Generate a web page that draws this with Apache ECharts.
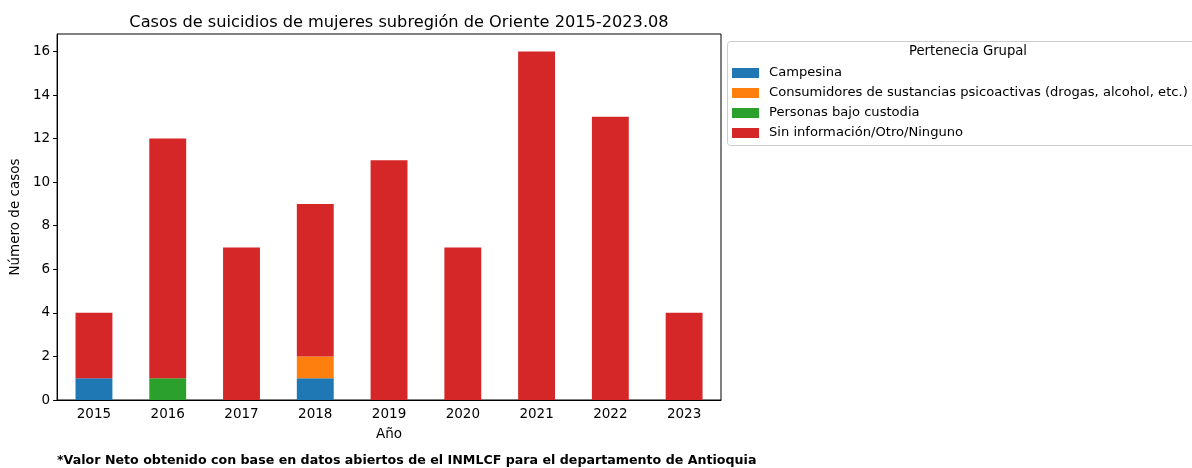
<!DOCTYPE html>
<html>
<head>
<meta charset="utf-8">
<script src="https://cdn.jsdelivr.net/npm/echarts@6/dist/echarts.min.js"></script>
<style>
  html, body { margin: 0; padding: 0; background: #fff; }
  #container { width: 1192px; height: 468px; }
</style>
</head>
<body>
<div id="container"></div>
<script>
// data
var years = ['2015', '2016', '2017', '2018', '2019', '2020', '2021', '2022', '2023'];
var campesina = [1, 0, 0, 1, 0, 0, 0, 0, 0];
var consumidores = [0, 0, 0, 1, 0, 0, 0, 0, 0];
var custodia = [0, 1, 0, 0, 0, 0, 0, 0, 0];
var sinInfo = [3, 11, 7, 7, 11, 7, 16, 13, 4];

var groupNames = [
    'Campesina',
    'Consumidores de sustancias psicoactivas (drogas, alcohol, etc.)',
    'Personas bajo custodia',
    'Sin información/Otro/Ninguno'
];
var groupValues = [campesina, consumidores, custodia, sinInfo];
var colors = ['#1f77b4', '#ff7f0e', '#2ca02c', '#d62728'];

var font = 'DejaVu Sans';
var dom = document.getElementById('container');
var myChart = echarts.init(dom);

var series = [];
groupNames.forEach(function (name, i) {
    series.push({
        name: name,
        type: 'bar',
        stack: 'total',
        barWidth: '50%',
        itemStyle: { color: colors[i] },
        data: groupValues[i]
    });
});

var option = {
    backgroundColor: '#fff',
    animation: false,
    color: colors,
    title: {
        text: 'Casos de suicidios de mujeres subregión de Oriente 2015-2023.08',
        left: 394,
        textAlign: 'center',
        top: 10,
        textStyle: { fontFamily: font, fontSize: 16.2, fontWeight: 'normal', color: '#000' }
    },
    grid: {
        left: 57, right: 471, top: 34, bottom: 68,
        show: true, borderColor: '#000', borderWidth: 1
    },
    legend: {
        orient: 'vertical',
        left: 732,
        top: 66,
        itemWidth: 27,
        itemHeight: 10,
        itemGap: 6,
        icon: 'rect',
        padding: 0,
        textStyle: { fontFamily: font, fontSize: 13.1, color: '#000', lineHeight: 14, padding: [0, 0, 0, 5] },
        data: groupNames
    },
    graphic: [
        {
            type: 'rect',
            shape: { x: 727.5, y: 41.5, width: 470, height: 104, r: 3 },
            style: { fill: 'rgba(255,255,255,0.8)', stroke: '#cccccc', lineWidth: 1 },
            z: -1
        },
        {
            type: 'text',
            x: 968, y: 52,
            style: {
                text: 'Pertenecia Grupal', fontFamily: font, fontSize: 13.2, fill: '#000',
                textAlign: 'center', textVerticalAlign: 'middle'
            }
        },
        {
            type: 'text',
            x: 57, y: 461,
            style: {
                text: '*Valor Neto obtenido con base en datos abiertos de el INMLCF para el departamento de Antioquia',
                fontFamily: font, fontSize: 12.65, fontWeight: 'bold', fill: '#000',
                textAlign: 'left', textVerticalAlign: 'middle'
            }
        }
    ],
    xAxis: {
        type: 'category',
        data: years,
        name: 'Año',
        nameLocation: 'middle',
        nameGap: 27,
        nameTextStyle: { fontFamily: font, fontSize: 13.5, color: '#000' },
        axisLine: { lineStyle: { color: '#000' } },
        axisTick: { alignWithLabel: true, length: 4, lineStyle: { color: '#000' } },
        axisLabel: { fontFamily: font, fontSize: 13.5, color: '#000', margin: 7 },
        splitLine: { show: false }
    },
    yAxis: {
        type: 'value',
        min: 0,
        max: 16.8,
        interval: 2,
        name: 'Número de casos',
        nameLocation: 'middle',
        nameGap: 34,
        nameTextStyle: { fontFamily: font, fontSize: 13.5, color: '#000' },
        axisLine: { show: true, lineStyle: { color: '#000' } },
        axisTick: { show: true, length: 4, lineStyle: { color: '#000' } },
        axisLabel: {
            fontFamily: font, fontSize: 13.5, color: '#000', margin: 7, showMaxLabel: false,
            formatter: function (v) { return v % 2 === 0 ? String(v) : ''; }
        },
        splitLine: { show: false }
    },
    series: series
};

myChart.setOption(option, true);
</script>
</body>
</html>
